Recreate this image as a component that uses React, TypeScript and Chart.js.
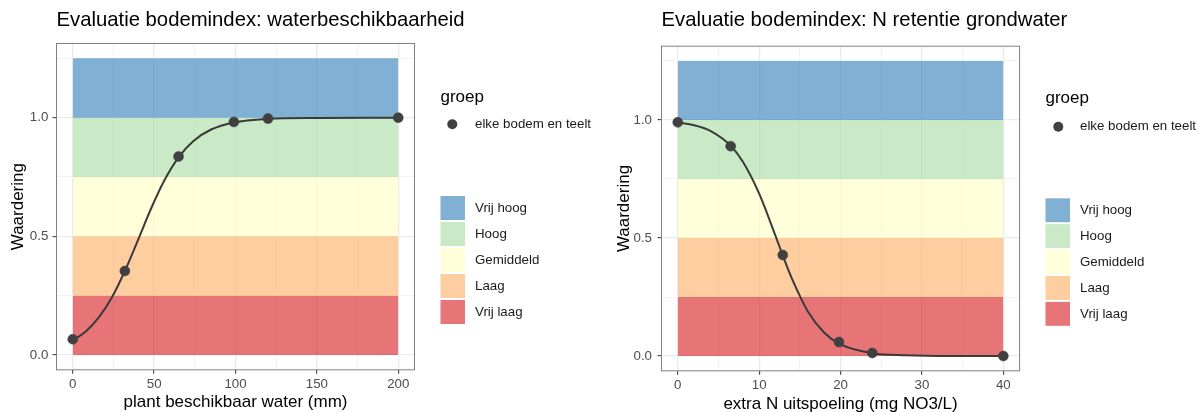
import React, { useEffect, useRef } from "react";
import { Chart, registerables } from "chart.js";

Chart.register(...registerables);

// ---------- data ----------
// observed points
const waterX = [0, 32, 65, 99, 120, 200];
const waterY = [0.066, 0.354, 0.836, 0.982, 0.996, 1.0];
// fitted curve
const waterFitX = [0, 8, 16, 24, 32, 40, 48, 56, 65, 74, 85, 99, 120, 150, 200];
const waterFitY = [0.062, 0.099, 0.158, 0.242, 0.354, 0.483, 0.615, 0.732, 0.833, 0.901, 0.95, 0.98, 0.995, 0.999, 1.0];

const nitrateX = [0, 6.5, 12.9, 19.8, 23.9, 40];
const nitrateY = [0.99, 0.889, 0.428, 0.059, 0.013, 0.0];
const nitrateFitX = [0, 2, 4, 6.5, 8, 10, 12, 12.9, 14, 16, 18, 20, 23.9, 28, 34, 40];
const nitrateFitY = [0.989, 0.978, 0.954, 0.891, 0.823, 0.688, 0.51, 0.426, 0.33, 0.188, 0.099, 0.049, 0.012, 0.003, 0.0, 0.0];

const classLabels = ["Vrij hoog", "Hoog", "Gemiddeld", "Laag", "Vrij laag"];
const classLower = [1.0, 0.75, 0.5, 0.25, 0.0];
const classUpper = [1.25, 1.0, 0.75, 0.5, 0.25];
const classColors = [
  "rgba(44,123,182,0.6)",
  "rgba(166,219,160,0.6)",
  "rgba(255,255,191,0.6)",
  "rgba(253,174,97,0.6)",
  "rgba(215,25,28,0.6)",
];

const yTicks = [0, 0.5, 1.0];
const yTickLabels = ["0.0", "0.5", "1.0"];
const yMinorTicks = [0.25, 0.75, 1.25];

const waterXTicks = [0, 50, 100, 150, 200];
const waterXTickLabels = ["0", "50", "100", "150", "200"];
const waterXMinor = [25, 75, 125, 175];

const nitrateXTicks = [0, 10, 20, 30, 40];
const nitrateXTickLabels = ["0", "10", "20", "30", "40"];
const nitrateXMinor = [5, 15, 25, 35];

const groupTitle = "groep";
const seriesLabel = "elke bodem en teelt";
const yTitle = "Waardering";

const FONT = '"Liberation Sans", Arial, sans-serif';
const W = 600;
const H = 412;

type Spec = {
  title: string;
  xTitle: string;
  xs: number[];
  ys: number[];
  fitX: number[];
  fitY: number[];
  xTicks: number[];
  xTickLabels: string[];
  xMinor: number[];
  xRange: [number, number];
  area: { left: number; top: number; right: number; bottom: number };
  xTickPad: number;
  xTitlePad: number;
  yTickPad: number;
  yTitlePad: number;
  leg: { x: number; groepY: number; ptX: number; ptY: number; textX: number; sqTop: number; sqStep: number };
};

const waterSpec: Spec = {
  title: "Evaluatie bodemindex: waterbeschikbaarheid",
  xTitle: "plant beschikbaar water (mm)",
  xs: waterX,
  ys: waterY,
  fitX: waterFitX,
  fitY: waterFitY,
  xTicks: waterXTicks,
  xTickLabels: waterXTickLabels,
  xMinor: waterXMinor,
  xRange: [0, 200],
  area: { left: 56.5, top: 43.5, right: 414.5, bottom: 369.8 },
  xTickPad: 2.2,
  xTitlePad: 0.8,
  yTickPad: 4.2,
  yTitlePad: 9.5,
  leg: { x: 440.5, groepY: 101.7, ptX: 452.3, ptY: 124.3, textX: 475, sqTop: 195, sqStep: 26 },
};

const nitrateSpec: Spec = {
  title: "Evaluatie bodemindex: N retentie grondwater",
  xTitle: "extra N uitspoeling (mg NO3/L)",
  xs: nitrateX,
  ys: nitrateY,
  fitX: nitrateFitX,
  fitY: nitrateFitY,
  xTicks: nitrateXTicks,
  xTickLabels: nitrateXTickLabels,
  xMinor: nitrateXMinor,
  xRange: [0, 40],
  area: { left: 61.5, top: 46.2, right: 419.6, bottom: 370.8 },
  xTickPad: 2.5,
  xTitlePad: -0.5,
  yTickPad: 5.5,
  yTitlePad: 15.5,
  leg: { x: 445.5, groepY: 102.7, ptX: 458.3, ptY: 126.7, textX: 480, sqTop: 197.3, sqStep: 25.9 },
};

function buildConfig(p: Spec): any {
  const span = p.xRange[1] - p.xRange[0];
  const xMajorSet = new Set(p.xTicks);
  const yMajorSet = new Set(yTicks);

  const bandDatasets = classLabels.map((lab, i) => ({
    type: "line",
    label: lab,
    data: [
      { x: p.xRange[0], y: classUpper[i] },
      { x: p.xRange[1], y: classUpper[i] },
    ],
    fill: { value: classLower[i] },
    backgroundColor: classColors[i],
    borderColor: "transparent",
    borderWidth: 0,
    pointRadius: 0,
    order: 3,
  }));

  const curve = {
    type: "line",
    label: "fit",
    data: p.fitX.map((x, i) => ({ x, y: p.fitY[i] })),
    borderColor: "#3a3a3a",
    borderWidth: 2,
    cubicInterpolationMode: "monotone",
    pointRadius: 0,
    fill: false,
    order: 1,
  };

  const points = {
    type: "line",
    label: seriesLabel,
    data: p.xs.map((x, i) => ({ x, y: p.ys[i] })),
    showLine: false,
    pointRadius: 5,
    pointBackgroundColor: "#404040",
    pointBorderColor: "#404040",
    pointBorderWidth: 0.5,
    fill: false,
    order: 0,
  };

  const decor = {
    id: "ggDecor",
    afterDraw(chart: any) {
      const { ctx, chartArea } = chart;
      const L = p.leg;
      ctx.save();
      // panel border
      ctx.strokeStyle = "#808080";
      ctx.lineWidth = 1;
      ctx.strokeRect(chartArea.left, chartArea.top, chartArea.right - chartArea.left, chartArea.bottom - chartArea.top);
      // title
      ctx.textAlign = "left";
      ctx.fillStyle = "#000";
      ctx.font = `20.3px ${FONT}`;
      ctx.textBaseline = "middle";
      ctx.fillText(p.title, chartArea.left, 20.5);
      // legend
      ctx.font = `17px ${FONT}`;
      ctx.textBaseline = "alphabetic";
      ctx.fillText(groupTitle, L.x, L.groepY);
      ctx.beginPath();
      ctx.arc(L.ptX, L.ptY, 5, 0, Math.PI * 2);
      ctx.fillStyle = "#404040";
      ctx.fill();
      ctx.font = `13.3px ${FONT}`;
      ctx.textBaseline = "middle";
      ctx.fillStyle = "#1a1a1a";
      ctx.fillText(seriesLabel, L.textX, L.ptY);
      classLabels.forEach((lab, i) => {
        const top = L.sqTop + i * L.sqStep;
        ctx.fillStyle = classColors[i];
        ctx.fillRect(L.x, top + 1, 24.5, L.sqStep - 2);
        ctx.fillStyle = "#1a1a1a";
        ctx.fillText(lab, L.textX, top + L.sqStep / 2);
      });
      ctx.restore();
    },
  };

  return {
    type: "line",
    data: { datasets: [points, curve, ...bandDatasets] },
    plugins: [decor],
    options: {
      responsive: false,
      animation: false,
      devicePixelRatio: 1,
      events: [],
      layout: { padding: { left: 0, right: 0, top: p.area.top, bottom: 0 } },
      plugins: {
        legend: { display: false },
        tooltip: { enabled: false },
        title: { display: false },
      },
      scales: {
        x: {
          type: "linear",
          position: "bottom",
          bounds: "data",
          min: p.xRange[0] - 0.05 * span,
          max: p.xRange[1] + 0.05 * span,
          afterBuildTicks: (s: any) => {
            s.ticks = [...p.xTicks, ...p.xMinor].sort((a, b) => a - b).map((v) => ({ value: v }));
          },
          afterFit: (s: any) => {
            s.height = H - p.area.bottom;
          },
          ticks: {
            autoSkip: false,
            maxRotation: 0,
            padding: p.xTickPad,
            color: "#4D4D4D",
            font: { family: FONT, size: 13.3, lineHeight: 1.2 },
            callback: (v: number) => {
              const idx = p.xTicks.indexOf(v);
              return idx >= 0 ? p.xTickLabels[idx] : "";
            },
          },
          grid: {
            color: (c: any) => (xMajorSet.has(c.tick?.value) ? "#EBEBEB" : "#F3F3F3"),
            lineWidth: (c: any) => (xMajorSet.has(c.tick?.value) ? 1.3 : 1),
            tickLength: 4,
            tickColor: (c: any) => (xMajorSet.has(c.tick?.value) ? "#333333" : "rgba(0,0,0,0)"),
            tickWidth: 1,
          },
          border: { display: false },
          title: {
            display: true,
            text: p.xTitle,
            color: "#000",
            font: { family: FONT, size: 17, lineHeight: 1 },
            padding: { top: 0, bottom: p.xTitlePad },
          },
        },
        y: {
          type: "linear",
          position: "left",
          bounds: "data",
          min: -0.0625,
          max: 1.3125,
          afterBuildTicks: (s: any) => {
            s.ticks = [...yTicks, ...yMinorTicks].sort((a, b) => a - b).map((v) => ({ value: v }));
          },
          afterFit: (s: any) => {
            s.width = p.area.left;
          },
          ticks: {
            autoSkip: false,
            padding: p.yTickPad,
            color: "#4D4D4D",
            font: { family: FONT, size: 13.3, lineHeight: 1.2 },
            callback: (v: number) => {
              const idx = yTicks.indexOf(v);
              return idx >= 0 ? yTickLabels[idx] : "";
            },
          },
          grid: {
            color: (c: any) => (yMajorSet.has(c.tick?.value) ? "#EBEBEB" : "#F3F3F3"),
            lineWidth: (c: any) => (yMajorSet.has(c.tick?.value) ? 1.3 : 1),
            tickLength: 4,
            tickColor: (c: any) => (yMajorSet.has(c.tick?.value) ? "#333333" : "rgba(0,0,0,0)"),
            tickWidth: 1,
          },
          border: { display: false },
          title: {
            display: true,
            text: yTitle,
            color: "#000",
            font: { family: FONT, size: 17, lineHeight: 1 },
            padding: { top: p.yTitlePad, bottom: 0 },
          },
        },
        legendSpace: {
          type: "linear",
          position: "right",
          display: true,
          grid: { display: false, drawTicks: false },
          ticks: { display: false },
          border: { display: false },
          afterFit: (s: any) => {
            s.width = W - p.area.right;
          },
        },
      },
    },
  };
}

function Panel({ spec }: { spec: Spec }) {
  const ref = useRef<HTMLCanvasElement>(null);
  useEffect(() => {
    const chart = new Chart(ref.current as HTMLCanvasElement, buildConfig(spec));
    return () => chart.destroy();
  }, [spec]);
  return <canvas ref={ref} width={W} height={H} style={{ display: "block", width: W, height: H }} />;
}

export default function App() {
  return (
    <div
      style={{
        position: "absolute",
        left: 0,
        top: 0,
        width: 1200,
        height: 412,
        display: "flex",
        background: "#fff",
      }}
    >
      <Panel spec={waterSpec} />
      <Panel spec={nitrateSpec} />
    </div>
  );
}
